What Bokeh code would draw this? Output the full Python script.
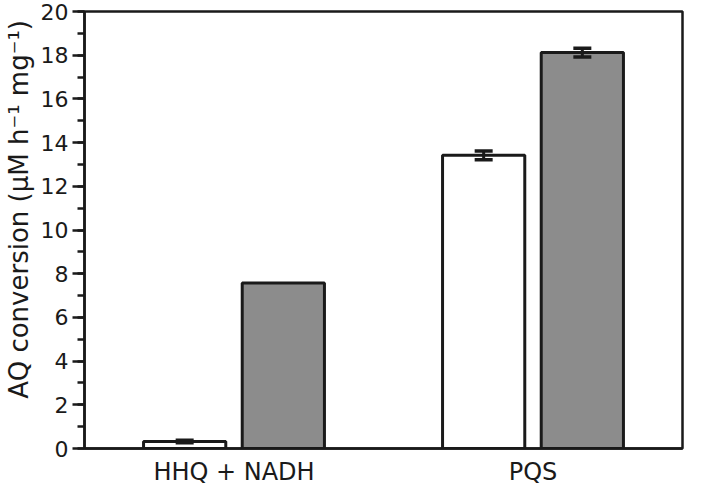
from bokeh.plotting import figure
from bokeh.models import ColumnDataSource, FactorRange, Whisker, TeeHead, SingleIntervalTicker
from bokeh.transform import dodge
from bokeh.embed import file_html
from bokeh.resources import INLINE

categories = ["HHQ + NADH", "PQS"]
white_values = [0.32, 13.42]
white_err = [0.06, 0.2]
gray_values = [7.58, 18.12]
gray_err = [0.0, 0.2]
y_title = "AQ conversion (μM h⁻¹ mg⁻¹)"

FONT = "DejaVu Sans"
INK = "#1a1a1a"

src = ColumnDataSource(dict(cat=categories, w=white_values, g=gray_values))

def err_source(vals, errs):
    keep = [i for i, e in enumerate(errs) if e > 0]
    return ColumnDataSource(dict(
        cat=[categories[i] for i in keep],
        lo=[vals[i] - errs[i] for i in keep],
        hi=[vals[i] + errs[i] for i in keep],
    ))

p = figure(width=685, height=488, x_range=FactorRange(*categories, range_padding=0),
           y_range=(0, 20), output_backend="svg", toolbar_location=None,
           min_border_left=81, min_border_right=3, min_border_top=11, min_border_bottom=36)

OFF = 0.165
p.vbar(x=dodge("cat", -OFF, range=p.x_range), top="w", width=0.275, source=src,
       fill_color="white", line_color=INK, line_width=3)
p.vbar(x=dodge("cat", OFF, range=p.x_range), top="g", width=0.275, source=src,
       fill_color="#8c8c8c", line_color=INK, line_width=3)

for vals, errs, off in ((white_values, white_err, -OFF), (gray_values, gray_err, OFF)):
    es = err_source(vals, errs)
    p.add_layout(Whisker(base=dodge("cat", off, range=p.x_range), lower="lo", upper="hi",
                         source=es, line_color=INK, line_width=3, level="overlay",
                         upper_head=TeeHead(size=18, line_width=3.5, line_color=INK),
                         lower_head=TeeHead(size=18, line_width=3.5, line_color=INK)))

p.grid.visible = False
p.outline_line_color = INK
p.outline_line_width = 2.5
p.background_fill_color = "white"
p.border_fill_color = "white"

ya = p.yaxis[0]
ya.ticker = SingleIntervalTicker(interval=2, num_minor_ticks=2)
ya.axis_label = "\u00a0" * 5 + y_title
ya.axis_label_text_font = FONT
ya.axis_label_text_font_style = "normal"
ya.axis_label_text_font_size = "26px"
ya.axis_label_text_color = INK
ya.axis_label_standoff = 4
ya.major_label_text_font = FONT
ya.major_label_text_font_size = "22px"
ya.major_label_text_color = INK
ya.major_label_standoff = 4
ya.major_tick_out = 12
ya.major_tick_in = 0
ya.minor_tick_out = 7
ya.minor_tick_in = 0
ya.major_tick_line_width = 2.5
ya.minor_tick_line_width = 2.5
ya.axis_line_width = 2.5
ya.axis_line_color = INK
ya.major_tick_line_color = INK
ya.minor_tick_line_color = INK

xa = p.xaxis[0]
xa.major_tick_out = 0
xa.major_tick_in = 0
xa.minor_tick_out = 0
xa.axis_line_width = 2.5
xa.axis_line_color = INK
xa.major_label_text_font = FONT
xa.major_label_text_font_size = "24px"
xa.major_label_text_color = INK
xa.major_label_standoff = 9

open("out.html", "w").write(file_html(p, INLINE))
